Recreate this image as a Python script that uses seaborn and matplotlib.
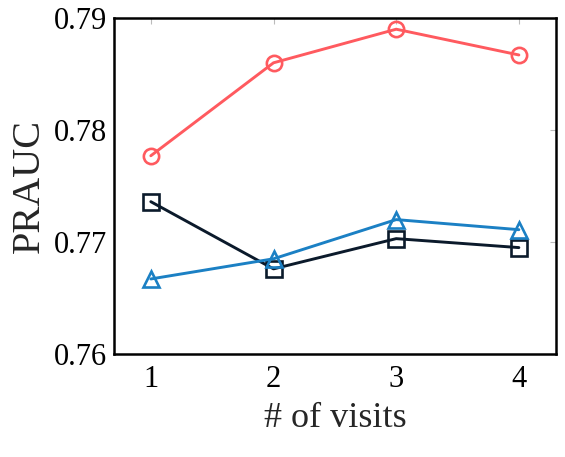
import pandas as pd
import seaborn as sns
import matplotlib
matplotlib.use("Agg")
import matplotlib.pyplot as plt

# number of visits on the x axis
visits = [1, 2, 3, 4]

# PRAUC per method
red_circle = [0.7777, 0.7860, 0.7890, 0.7867]
black_square = [0.7736, 0.7676, 0.7703, 0.7695]
blue_triangle = [0.7667, 0.7685, 0.7720, 0.7711]

sns.set_theme(style="white")
plt.rcParams["font.family"] = ["Liberation Serif", "DejaVu Serif"]

fig = plt.figure(figsize=(5.65, 4.57), dpi=100)
ax = fig.add_axes([0.2018, 0.2254, 0.7817, 0.7352])

series = [
    (red_circle, "#FF5A5F", "o"),
    (black_square, "#0B1A2B", "s"),
    (blue_triangle, "#1B80C4", "^"),
]
for vals, color, marker in series:
    df = pd.DataFrame({"visits": visits, "prauc": vals})
    sns.lineplot(data=df, x="visits", y="prauc", ax=ax, color=color,
                 linewidth=2.1, marker=marker, markersize=11,
                 markerfacecolor="none", markeredgecolor=color,
                 markeredgewidth=1.9)

ax.set_xlim(0.7, 4.3)
ax.set_ylim(0.76, 0.79)
ax.set_xticks(visits)
ax.set_yticks([0.76, 0.77, 0.78, 0.79])
ax.set_yticklabels(["0.76", "0.77", "0.78", "0.79"])

ax.tick_params(axis="both", direction="in", length=4, width=0.8,
               color="#bbbbbb", labelsize=22, top=True, right=True,
               labelcolor="black", pad=5)
ax.tick_params(axis="x", pad=8)
for s in ax.spines.values():
    s.set_visible(True)
    s.set_color("black")
    s.set_linewidth(1.8)

ax.set_xlabel("# of visits", fontsize=26, labelpad=6)
ax.set_ylabel("PRAUC", fontsize=29, labelpad=4)

fig.savefig("out.png", dpi=100)
